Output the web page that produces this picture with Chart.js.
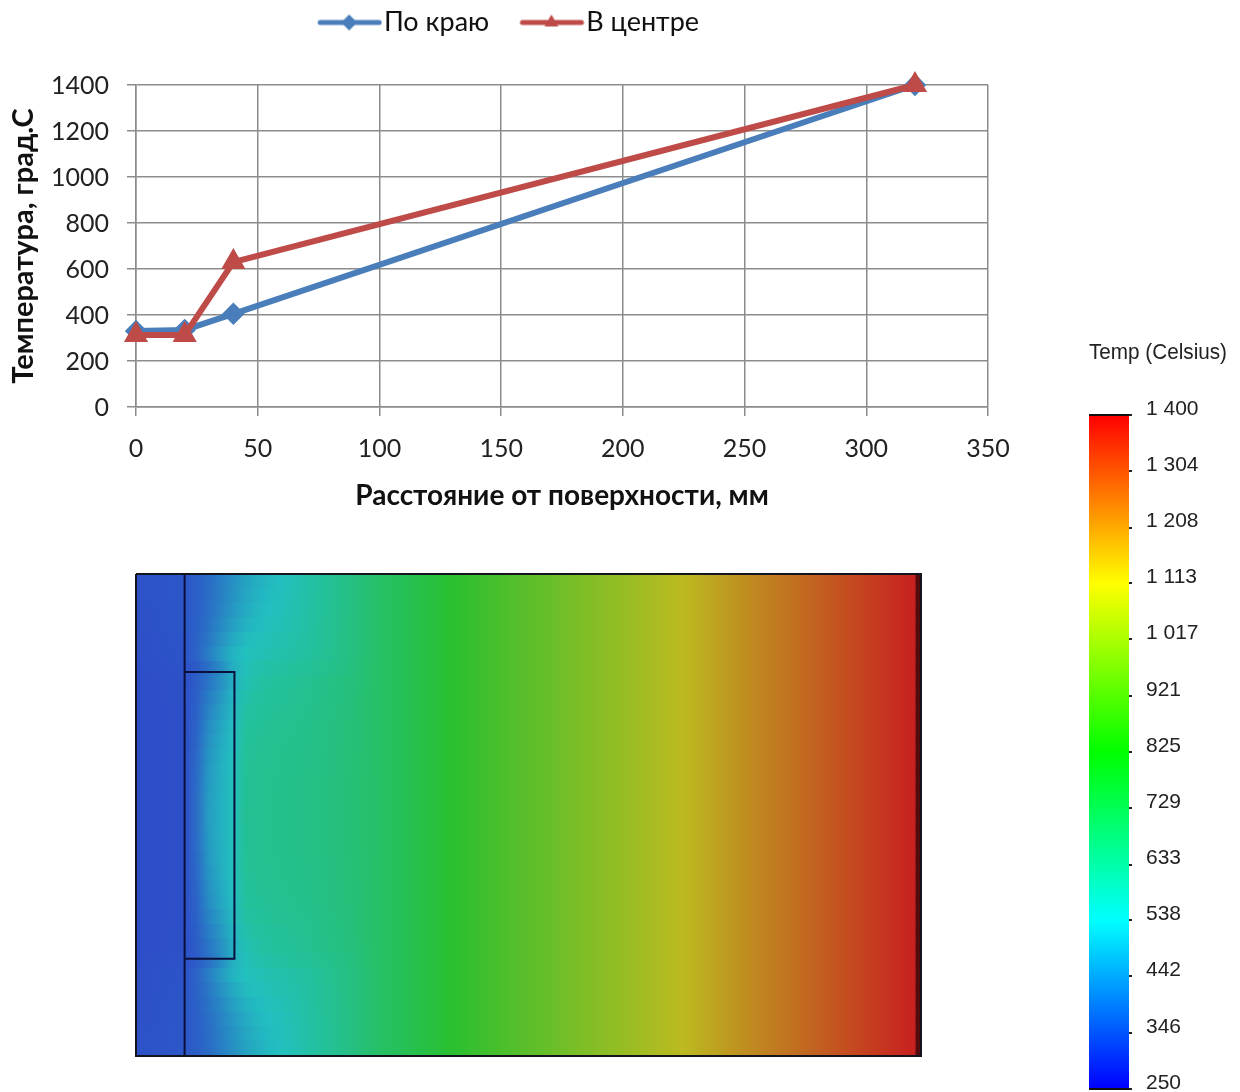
<!DOCTYPE html>
<html lang="ru">
<head>
<meta charset="utf-8">
<title>Температура</title>
<script src="https://cdn.jsdelivr.net/npm/chart.js@4/dist/chart.umd.js"></script>
<style>
    html, body { margin: 0; padding: 0; background: #fff; width: 1240px; height: 1092px; overflow: hidden; }
    canvas { position: absolute; filter: blur(0.5px); }
    #profile { left: 0; top: 0; }
    #field { left: 134px; top: 572px; }
    #colorbar { left: 1070px; top: 335px; }
</style>
</head>
<body>
<canvas id="profile" width="1240" height="515"></canvas>
<canvas id="field" width="789" height="486"></canvas>
<canvas id="colorbar" width="170" height="757"></canvas>
<script>
// line chart
const distance = [0, 20, 40, 320];
const edgeTemp = [330, 335, 405, 1400];
const centerTemp = [313, 313, 630, 1400];
const xTicks = [0, 50, 100, 150, 200, 250, 300, 350];
const yTicks = [0, 200, 400, 600, 800, 1000, 1200, 1400];

// temperature field, mm from the surface / deg C, top half of the block
const nearColumns = [0, 20, 25, 30, 35, 40, 45, 50, 55, 60, 65, 70, 80, 90];
const farColumns = [100, 110, 120, 130, 150, 175, 200, 225, 250, 275, 300, 320.5];
const farTemps = [718, 750, 790, 828, 890, 965, 1040, 1116, 1195, 1265, 1340, 1400];
const halfRows = [
    [325, 335, 350, 375, 410, 445, 480, 505, 525, 540, 560, 583, 625, 665],
    [325, 335, 350, 378, 414, 450, 486, 511, 530, 545, 563, 585, 626, 666],
    [322, 335, 352, 382, 420, 460, 495, 520, 538, 552, 568, 588, 627, 666],
    [322, 335, 355, 390, 432, 475, 510, 531, 547, 560, 575, 592, 629, 667],
    [320, 332, 358, 400, 448, 494, 527, 544, 557, 569, 582, 597, 631, 668],
    [320, 330, 360, 410, 465, 515, 540, 555, 568, 579, 590, 602, 634, 669],
    [318, 325, 345, 385, 440, 505, 550, 575, 590, 600, 610, 618, 642, 674],
    [316, 322, 348, 395, 445, 508, 560, 590, 605, 615, 622, 630, 655, 680],
    [316, 322, 352, 410, 460, 518, 580, 600, 612, 620, 627, 634, 657, 682],
    [315, 320, 356, 425, 475, 527, 595, 610, 620, 627, 633, 638, 659, 683],
    [315, 320, 360, 438, 487, 533, 605, 618, 626, 633, 638, 643, 661, 685],
    [315, 320, 365, 448, 495, 538, 612, 623, 630, 636, 642, 646, 663, 686],
    [315, 320, 370, 456, 502, 541, 617, 627, 634, 639, 644, 648, 665, 687],
    [315, 320, 374, 462, 506, 543, 620, 629, 636, 641, 646, 650, 666, 688],
    [315, 320, 377, 466, 508, 544, 623, 631, 637, 642, 647, 651, 667, 689],
    [315, 320, 379, 468, 509, 545, 624, 632, 638, 643, 648, 652, 668, 690],
    [315, 320, 380, 470, 510, 545, 625, 632, 638, 643, 648, 652, 668, 690]
];
const fieldRows = halfRows.concat(halfRows.slice(0, -1).reverse());
const fieldColumns = nearColumns.concat(farColumns);
const rowLabels = fieldRows.map((r, i) => 'row' + i);
const fieldEnd = 320.5;
const blockWidth = 323;
const blockHeight = 198;

// outlines of the block, mm
const outerBox = [{x: 0, y: 0}, {x: blockWidth, y: 0}, {x: blockWidth, y: blockHeight}, {x: 0, y: blockHeight}, {x: 0, y: 0}];
const wallLine = [{x: 20, y: 0}, {x: 20, y: blockHeight}];
const insertBox = [{x: 20, y: 40.3}, {x: 40.5, y: 40.3}, {x: 40.5, y: 158}, {x: 20, y: 158}];

// muted palette of the field picture
const fieldStops = [250, 320, 538, 825, 1113, 1400];
const fieldColors = [[42, 52, 200], [45, 79, 200], [34, 192, 192], [40, 192, 48], [188, 188, 32], [200, 32, 32]];

// colour bar
const barTicks = [250, 346, 442, 538, 633, 729, 825, 921, 1017, 1113, 1208, 1304, 1400];
const barTickLabels = ['250', '346', '442', '538', '633', '729', '825', '921', '1 017', '1 113', '1 208', '1 304', '1 400'];
const barStops = [0, 0.25, 0.5, 0.75, 1];
const barColors = ['#ff0000', '#ffff00', '#00ff00', '#00ffff', '#0000ff'];

const LATIN_FONT = 'Lato, "Open Sans", sans-serif';

function tempColor(t) {
    let i = 0;
    while (i < fieldStops.length - 2 && t > fieldStops[i + 1]) i++;
    const k = Math.max(0, Math.min(1, (t - fieldStops[i]) / (fieldStops[i + 1] - fieldStops[i])));
    const c = fieldColors[i].map((v, n) => Math.round(v + (fieldColors[i + 1][n] - v) * k));
    return `rgb(${c[0]},${c[1]},${c[2]})`;
}

// legend sample: line with a marker, shifted so the label sits right after it
function legendSample(color, style) {
    const cv = document.createElement('canvas');
    cv.width = 100;
    cv.height = 24;
    const c = cv.getContext('2d');
    c.strokeStyle = color;
    c.lineWidth = 5;
    c.lineCap = 'round';
    c.beginPath();
    c.moveTo(37, 12);
    c.lineTo(96, 12);
    c.stroke();
    c.fillStyle = color;
    Chart.helpers.drawPoint(c, { pointStyle: style, radius: 8, borderWidth: 0 }, 66, 12);
    return cv;
}

// keeps the plot top at 85px while the legend stays at the very top
const tallLegend = {
    id: 'tallLegend',
    beforeInit(chart) {
        const fit = chart.legend.fit;
        chart.legend.fit = function () {
            fit.call(this);
            this.height = 85;
        };
    }
};

function initProfile() {
    const grid = { color: '#8c8c8c', lineWidth: 1.5, tickLength: 9, tickColor: '#8c8c8c' };
    const tickFont = { family: LATIN_FONT, size: 25 };
    new Chart(document.getElementById('profile'), {
        type: 'scatter',
        plugins: [tallLegend],
        data: {
            datasets: [
                {
                    label: 'По краю',
                    data: distance.map((d, i) => ({ x: d, y: edgeTemp[i] })),
                    showLine: true, borderColor: '#4a7ebb', backgroundColor: '#4a7ebb',
                    borderWidth: 6, pointStyle: 'rectRot', pointRadius: 7, clip: false, order: 2
                },
                {
                    label: 'В центре',
                    data: distance.map((d, i) => ({ x: d, y: centerTemp[i] })),
                    showLine: true, borderColor: '#be4b48', backgroundColor: '#be4b48',
                    borderWidth: 6, pointStyle: 'triangle', pointRadius: 8, clip: false, order: 1
                }
            ]
        },
        options: {
            responsive: false,
            animation: false,
            events: [],
            layout: { padding: { right: 245 } },
            plugins: {
                tooltip: { enabled: false },
                legend: {
                    labels: {
                        color: '#111',
                        font: { family: LATIN_FONT, size: 27 },
                        padding: 9,
                        usePointStyle: true,
                        pointStyleWidth: 74.5,
                        generateLabels: chart => chart.data.datasets.map((ds, i) => ({
                            text: ds.label,
                            datasetIndex: i,
                            fontColor: '#111',
                            lineWidth: 0,
                            pointStyle: legendSample(ds.borderColor, ds.pointStyle)
                        }))
                    }
                }
            },
            scales: {
                x: {
                    type: 'linear', min: 0, max: 350,
                    afterBuildTicks: s => { s.ticks = xTicks.map(v => ({ value: v })); },
                    afterFit: s => { s.height = 108; s.paddingRight = 252; },
                    grid, border: { color: '#8c8c8c', width: 1.5 },
                    ticks: { color: '#222', font: tickFont, padding: 18, maxRotation: 0, callback: v => String(v) },
                    title: { display: true, text: 'Расстояние от поверхности, мм', color: '#111', font: { family: LATIN_FONT, size: 28, weight: 'bold' }, padding: { top: 0, bottom: 2 } }
                },
                y: {
                    type: 'linear', min: 0, max: 1400,
                    afterBuildTicks: s => { s.ticks = yTicks.map(v => ({ value: v })); },
                    afterFit: s => { s.width = 136; },
                    grid, border: { color: '#8c8c8c', width: 1.5 },
                    ticks: { color: '#222', font: tickFont, padding: 18, labelOffset: 1, callback: v => String(v) },
                    title: { display: true, text: 'Температура, град.С', color: '#111', font: { family: LATIN_FONT, size: 29, weight: 'bold' }, padding: { top: 6, bottom: 0 } }
                }
            }
        }
    });
}

function rowGradient(ctx) {
    const chart = ctx.chart;
    if (!chart.chartArea || ctx.dataIndex === undefined) return 'transparent';
    const xs = chart.scales.x;
    const x0 = xs.getPixelForValue(0);
    const x1 = xs.getPixelForValue(fieldEnd);
    const g = chart.ctx.createLinearGradient(x0, 0, x1, 0);
    const temps = fieldRows[ctx.dataIndex].concat(farTemps);
    fieldColumns.forEach((mm, i) => g.addColorStop(mm / fieldEnd, tempColor(temps[i])));
    return g;
}

function initField() {
    const outline = (data, color) => ({
        type: 'line', data, xAxisID: 'x', yAxisID: 'yMm',
        borderColor: color, borderWidth: 2, pointRadius: 0, tension: 0, clip: false, fill: false
    });
    new Chart(document.getElementById('field'), {
        type: 'bar',
        data: {
            labels: rowLabels,
            datasets: [
                outline(outerBox, '#14141e'),
                outline(wallLine, '#0a0f3c'),
                outline(insertBox, '#0a0f3c'),
                {
                    label: 'Поле',
                    indexAxis: 'y', xAxisID: 'x', yAxisID: 'yRow',
                    data: rowLabels.map(() => [0, fieldEnd]),
                    backgroundColor: rowGradient, inflateAmount: 0.6,
                    barPercentage: 1, categoryPercentage: 1, grouped: false
                },
                {
                    label: 'Край',
                    indexAxis: 'y', xAxisID: 'x', yAxisID: 'yRow',
                    data: rowLabels.map(() => [fieldEnd, blockWidth]),
                    backgroundColor: '#520c0e', inflateAmount: 0.6,
                    barPercentage: 1, categoryPercentage: 1, grouped: false
                }
            ]
        },
        options: {
            responsive: false,
            animation: false,
            events: [],
            layout: { padding: 2 },
            plugins: { tooltip: { enabled: false }, legend: { display: false } },
            scales: {
                x: { type: 'linear', min: 0, max: blockWidth, offset: false, display: false },
                yRow: { type: 'category', axis: 'y', offset: true, display: false },
                yMm: { type: 'linear', axis: 'y', min: 0, max: blockHeight, reverse: true, display: false }
            }
        }
    });
}

function initColorbar() {
    new Chart(document.getElementById('colorbar'), {
        type: 'bar',
        data: {
            labels: ['Temp'],
            datasets: [{
                data: [[barTicks[0], barTicks[barTicks.length - 1]]],
                barPercentage: 1, categoryPercentage: 1,
                backgroundColor: ctx => {
                    const area = ctx.chart.chartArea;
                    if (!area) return 'transparent';
                    const g = ctx.chart.ctx.createLinearGradient(0, area.top, 0, area.bottom);
                    barStops.forEach((s, i) => g.addColorStop(s, barColors[i]));
                    return g;
                }
            }]
        },
        options: {
            responsive: false,
            animation: false,
            events: [],
            layout: { padding: { left: 19, right: 13, bottom: 3 } },
            plugins: {
                tooltip: { enabled: false },
                legend: { display: false },
                title: {
                    display: true, text: 'Temp (Celsius)', color: '#222',
                    font: { family: '"Liberation Sans"', size: 22, weight: 'normal' },
                    padding: { top: 4.4, bottom: 49.2 }
                }
            },
            scales: {
                x: { type: 'category', offset: true, display: false },
                y: {
                    type: 'linear', position: 'right', min: barTicks[0], max: barTicks[barTicks.length - 1],
                    afterBuildTicks: s => { s.ticks = barTicks.map(v => ({ value: v })); },
                    afterFit: s => { s.width = 98; s.paddingBottom = 3; },
                    border: { display: false },
                    grid: {
                        z: 1, tickLength: 3, tickColor: '#222', tickWidth: 2, lineWidth: 2,
                        color: c => (c.index === 0 || c.index === barTicks.length - 1) ? '#111' : 'transparent'
                    },
                    ticks: {
                        color: '#222', padding: 14, labelOffset: -6, autoSkip: false,
                        font: { family: '"Liberation Sans"', size: 21 },
                        callback: (v, i) => barTickLabels[i]
                    }
                }
            }
        }
    });
}

initProfile();
initField();
initColorbar();
</script>
</body>
</html>
